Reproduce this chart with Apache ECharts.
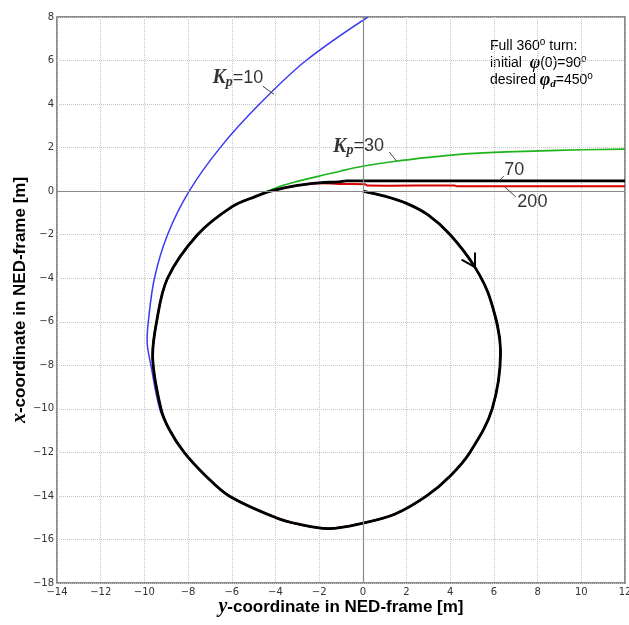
<!DOCTYPE html>
<html>
<head>
<meta charset="utf-8">
<script src="https://cdn.jsdelivr.net/npm/echarts@6/dist/echarts.min.js"></script>
<style>
  html, body { margin: 0; padding: 0; background: #fff; }
  #chartDom { width: 629px; height: 625px; }
</style>
</head>
<body>
<div id="chartDom"></div>
<script>
// axis ticks
var yCoordTicks = { min: -14, max: 12, step: 2 };
var xCoordTicks = { min: -18, max: 8, step: 2 };

// [y, x] pairs: the turn from the start point down to the lower left
var turnStart = [[0, 0], [1.0, -0.23], [2.0, -0.56], [3.0, -1.1], [4.0, -2.0], [5.13, -3.49],
    [5.84, -4.98], [6.3, -7.3], [5.92, -10.0], [4.9, -12.0], [4.0, -13.08], [2.92, -14.0],
    [1.48, -14.83], [0, -15.25], [-1.56, -15.5], [-2.93, -15.3], [-4.0, -14.99], [-6.12, -14.0],
    [-7.19, -13.08], [-8.18, -12.0], [-8.86, -10.95]];
// left side of the turn (shared by Kp = 30, 70, 200)
var turnLeft = [[-9.24, -10.0], [-9.62, -7.7], [-9.44, -6.0], [-8.94, -4.0], [-7.57, -2.0],
    [-6.0, -0.72], [-4.9, -0.24]];

var kp10Tail = [[-9.3, -10.0], [-9.7, -8.0], [-9.87, -7.0], [-9.82, -6.0], [-9.54, -4.0],
    [-8.94, -2.0], [-7.95, 0], [-6.53, 2.0], [-4.73, 4.0], [-2.6, 6.0], [0.23, 8]];
var kp30Tail = [[-4.0, 0.15], [-3.0, 0.45], [-2.0, 0.69], [-1.0, 0.93], [0, 1.14], [1.5, 1.37],
    [3.0, 1.55], [4.3, 1.68], [6.0, 1.78], [7.8, 1.84], [10, 1.9], [12, 1.93]];
var kp70Tail = [[-4.22, 0], [-3.0, 0.26], [-2.0, 0.38], [-1.1, 0.43], [-0.73, 0.47], [12, 0.47]];
var kp200Tail = [[-4.22, 0], [-3.0, 0.26], [-2.0, 0.36], [-1.1, 0.33], [0.1, 0.32], [0.2, 0.26],
    [4.2, 0.26], [4.3, 0.23], [12, 0.23]];

// direction arrow on the turn: tip and two arm ends
var arrowTip = [5.13, -3.49];
var arrowArms = [[4.52, -3.15], [5.13, -2.82]];

var myChart = echarts.init(document.getElementById('chartDom'));

var serif = "'Liberation Serif', 'DejaVu Serif', serif";
var sans = "'Liberation Sans', Arial, sans-serif";
var tickFont = "'DejaVu Sans', sans-serif";

function minus(v) {
    return String(v).replace('-', '\u2212');
}

// one smooth polyline per trajectory, placed through the grid's axes
function track(name, path, color, width) {
    return {
        name: name,
        type: 'custom',
        coordinateSystem: 'cartesian2d',
        silent: true,
        clip: true,
        data: path,
        encode: { x: 0, y: 1 },
        renderItem: function (params, api) {
            if (params.dataIndex !== 0) return null;
            var pts = path.map(function (p) { return api.coord(p); });
            return {
                type: 'polyline',
                shape: { points: pts, smooth: 0.35 },
                style: { stroke: color, lineWidth: width, fill: 'none', lineJoin: 'round' }
            };
        }
    };
}

function segments(list, color, width) {
    return {
        silent: true,
        symbol: ['none', 'none'],
        label: { show: false },
        lineStyle: { color: color, type: 'solid', width: width },
        data: list
    };
}

var labelRich = {
    K: { fontFamily: serif, fontStyle: 'italic', fontWeight: 'bold', fontSize: 20, color: '#000' },
    p: { fontFamily: serif, fontStyle: 'italic', fontWeight: 'bold', fontSize: 14, color: '#000', padding: [8, 0, 0, 0] },
    n: { fontFamily: sans, fontSize: 18, color: '#000' }
};

var axisNameRich = {
    i: { fontFamily: serif, fontStyle: 'italic', fontWeight: 'bold', fontSize: 20, color: '#000' },
    t: { fontFamily: sans, fontWeight: 'bold', fontSize: 17, color: '#000' }
};

var option = {
    backgroundColor: '#fff',
    animation: false,
    grid: {
        left: 57, right: 4, top: 17, bottom: 42,
        outerBoundsMode: 'none',
        show: true, borderColor: '#666', borderWidth: 1.5
    },
    xAxis: {
        type: 'value',
        min: yCoordTicks.min, max: yCoordTicks.max, interval: yCoordTicks.step,
        axisLine: { show: false },
        axisTick: { show: false },
        axisLabel: { formatter: minus, color: '#333', fontFamily: tickFont, fontSize: 10, margin: 4 },
        splitLine: { lineStyle: { color: '#c4c4c4', type: 'dotted', width: 1 } },
        name: '{i|y}{t|-coordinate in NED-frame [m]}',
        nameLocation: 'middle',
        nameMoveOverlap: false,
        nameGap: 14,
        nameTextStyle: { rich: axisNameRich }
    },
    yAxis: {
        type: 'value',
        min: xCoordTicks.min, max: xCoordTicks.max, interval: xCoordTicks.step,
        axisLine: { show: false },
        axisTick: { show: false },
        axisLabel: { formatter: minus, color: '#333', fontFamily: tickFont, fontSize: 10, margin: 3, padding: [0, 0, 6, 0] },
        splitLine: { lineStyle: { color: '#c4c4c4', type: 'dotted', width: 1 } },
        name: '{i|x}{t|-coordinate in NED-frame [m]}',
        nameLocation: 'middle',
        nameRotate: 90,
        nameMoveOverlap: false,
        nameGap: 27,
        nameTextStyle: { rich: axisNameRich }
    },
    series: [
        {
            type: 'line',
            data: [],
            silent: true,
            markLine: segments([{ xAxis: 0 }, { yAxis: 0 }], '#8a8a8a', 1.2)
        },
        track('Kp=10', turnStart.concat(kp10Tail), '#3a3af2', 1.5),
        track('Kp=30', turnStart.concat(turnLeft, kp30Tail), '#1db41d', 1.6),
        track('Kp=200', turnStart.concat(turnLeft, kp200Tail), '#d90000', 2),
        track('Kp=70', turnStart.concat(turnLeft, kp70Tail), '#000', 2.8),
        {
            type: 'scatter',
            symbolSize: 0,
            silent: true,
            z: 5,
            label: { show: true, position: 'inside', rich: labelRich },
            data: [
                { value: [-5.72, 5.2], label: { formatter: '{K|K}{p|p}{n|=10}' } },
                { value: [-0.2, 2.05], label: { formatter: '{K|K}{p|p}{n|=30}' } },
                { value: [6.93, 0.98], label: { formatter: '{n|70}' } },
                { value: [7.76, -0.48], label: { formatter: '{n|200}' } }
            ],
            markLine: segments([
                [{ coord: [-4.58, 4.82] }, { coord: [-4.07, 4.45] }],
                [{ coord: [1.21, 1.80] }, { coord: [1.54, 1.38] }],
                [{ coord: [6.45, 0.69] }, { coord: [6.27, 0.5] }],
                [{ coord: [6.45, 0.23] }, { coord: [7.0, -0.26] }]
            ], '#444', 1)
        },
        {
            type: 'line',
            data: [],
            silent: true,
            z: 5,
            markLine: segments(arrowArms.map(function (a) {
                return [{ coord: arrowTip }, { coord: a }];
            }), '#000', 2)
        }
    ],
    graphic: [{
        type: 'text',
        left: 490,
        top: 37,
        silent: true,
        style: {
            text: '{a|Full 360}{s|o}{a| turn:}\n{a|initial  }{f|φ}{a|(0)=90}{s|o}\n{a|desired }{f|φ}{d|d}{a|=450}{s|o}',
            rich: {
                a: { fontFamily: sans, fontSize: 14, color: '#222', lineHeight: 17 },
                s: { fontFamily: sans, fontSize: 10, color: '#222', padding: [0, 0, 8, 0], lineHeight: 17 },
                f: { fontFamily: serif, fontStyle: 'italic', fontWeight: 'bold', fontSize: 18, color: '#000', lineHeight: 17 },
                d: { fontFamily: serif, fontStyle: 'italic', fontWeight: 'bold', fontSize: 11, color: '#000', padding: [8, 0, 0, 0], lineHeight: 17 }
            }
        }
    }]
};

myChart.setOption(option);
</script>
</body>
</html>
